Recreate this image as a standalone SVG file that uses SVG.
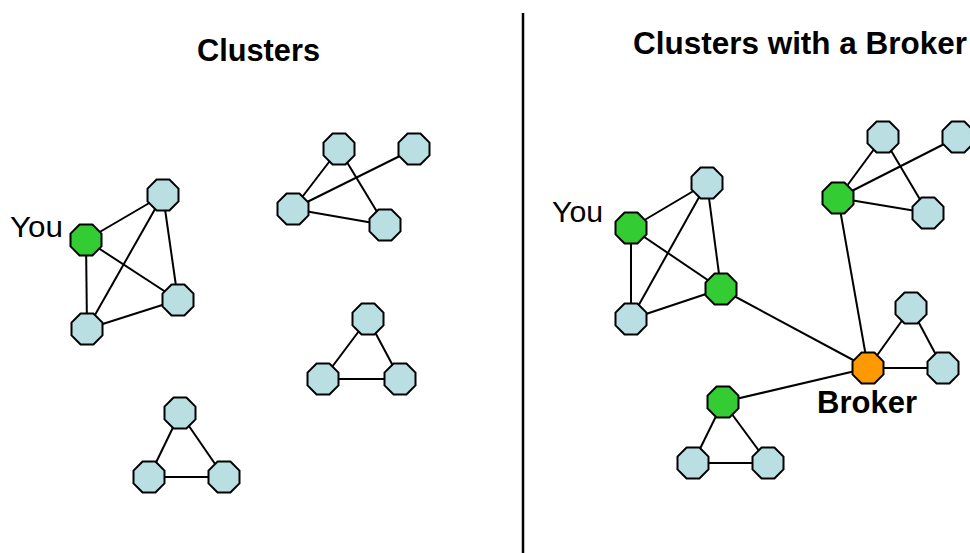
<svg xmlns="http://www.w3.org/2000/svg" xmlns:xlink="http://www.w3.org/1999/xlink" width="970" height="553" viewBox="0 0 970 553">
  <style>
    .edge { stroke: #000; stroke-width: 2; fill: none; }
    .node { stroke: #000; stroke-width: 2; stroke-linejoin: round; }
    .plain { fill: #b9dfe2; }
    .link { fill: #33cc33; }
    .broker { fill: #ff9900; }
    .title { font-family: "Liberation Sans", Arial, sans-serif; font-weight: bold; font-size: 31px; fill: #000; }
    .label { font-family: "Liberation Sans", Arial, sans-serif; font-size: 30px; fill: #000; }
  </style>
  <defs>
    <!-- octagonal node, centred on the origin -->
    <polygon id="oct" points="-6.4,-15.5 6.4,-15.5 15.5,-6.4 15.5,6.4 6.4,15.5 -6.4,15.5 -15.5,6.4 -15.5,-6.4"/>
  </defs>

  <rect width="970" height="553" fill="#fff"/>

  <!-- panel divider -->
  <line x1="523" y1="13" x2="523" y2="553" stroke="#000" stroke-width="2.5"/>

  <!-- titles -->
  <text class="title" x="197" y="61" textLength="123" lengthAdjust="spacingAndGlyphs">Clusters</text>
  <text class="title" x="633" y="54" textLength="334" lengthAdjust="spacingAndGlyphs">Clusters with a Broker</text>

  <!-- connectors -->
  <g id="connectors" class="edge">
    <!-- left panel: your cluster -->
    <line x1="86" y1="240" x2="163" y2="195"/>
    <line x1="86" y1="240" x2="178" y2="300"/>
    <line x1="86" y1="240" x2="87" y2="329"/>
    <line x1="163" y1="195" x2="178" y2="300"/>
    <line x1="163" y1="195" x2="87" y2="329"/>
    <line x1="87" y1="329" x2="178" y2="300"/>
    <!-- left panel: upper-right cluster -->
    <line x1="293" y1="209" x2="339" y2="149"/>
    <line x1="293" y1="209" x2="414" y2="149"/>
    <line x1="293" y1="209" x2="385" y2="225"/>
    <line x1="339" y1="149" x2="385" y2="225"/>
    <!-- left panel: middle triangle -->
    <line x1="368" y1="319" x2="323" y2="379"/>
    <line x1="368" y1="319" x2="400" y2="379"/>
    <line x1="323" y1="379" x2="400" y2="379"/>
    <!-- left panel: bottom triangle -->
    <line x1="180" y1="413" x2="149" y2="477"/>
    <line x1="180" y1="413" x2="224" y2="477"/>
    <line x1="149" y1="477" x2="224" y2="477"/>

    <!-- right panel: your cluster -->
    <line x1="631" y1="228" x2="707" y2="183"/>
    <line x1="631" y1="228" x2="721" y2="289"/>
    <line x1="631" y1="228" x2="631" y2="319"/>
    <line x1="707" y1="183" x2="721" y2="289"/>
    <line x1="707" y1="183" x2="631" y2="319"/>
    <line x1="631" y1="319" x2="721" y2="289"/>
    <!-- right panel: upper cluster -->
    <line x1="838" y1="198" x2="883" y2="137"/>
    <line x1="838" y1="198" x2="958" y2="137"/>
    <line x1="838" y1="198" x2="928" y2="213"/>
    <line x1="883" y1="137" x2="928" y2="213"/>
    <!-- right panel: triangle with the broker -->
    <line x1="868" y1="368" x2="911" y2="308"/>
    <line x1="911" y1="308" x2="943" y2="368"/>
    <line x1="868" y1="368" x2="943" y2="368"/>
    <!-- right panel: lower triangle -->
    <line x1="723" y1="402" x2="693" y2="463"/>
    <line x1="723" y1="402" x2="768" y2="463"/>
    <line x1="693" y1="463" x2="768" y2="463"/>
    <!-- broker bridges -->
    <line x1="721" y1="289" x2="868" y2="368"/>
    <line x1="838" y1="198" x2="868" y2="368"/>
    <line x1="723" y1="402" x2="868" y2="368"/>
  </g>

  <!-- left panel nodes -->
  <g id="l-you"><use xlink:href="#oct" class="node link" x="86" y="240"/><text class="label" x="10" y="237" textLength="53" lengthAdjust="spacingAndGlyphs">You</text></g>
  <g id="l-a1"><use xlink:href="#oct" class="node plain" x="163" y="195"/></g>
  <g id="l-a2"><use xlink:href="#oct" class="node plain" x="178" y="300"/></g>
  <g id="l-a3"><use xlink:href="#oct" class="node plain" x="87" y="329"/></g>
  <g id="l-b1"><use xlink:href="#oct" class="node plain" x="339" y="149"/></g>
  <g id="l-b2"><use xlink:href="#oct" class="node plain" x="414" y="149"/></g>
  <g id="l-b3"><use xlink:href="#oct" class="node plain" x="293" y="209"/></g>
  <g id="l-b4"><use xlink:href="#oct" class="node plain" x="385" y="225"/></g>
  <g id="l-c1"><use xlink:href="#oct" class="node plain" x="368" y="319"/></g>
  <g id="l-c2"><use xlink:href="#oct" class="node plain" x="323" y="379"/></g>
  <g id="l-c3"><use xlink:href="#oct" class="node plain" x="400" y="379"/></g>
  <g id="l-d1"><use xlink:href="#oct" class="node plain" x="180" y="413"/></g>
  <g id="l-d2"><use xlink:href="#oct" class="node plain" x="149" y="477"/></g>
  <g id="l-d3"><use xlink:href="#oct" class="node plain" x="224" y="477"/></g>

  <!-- right panel nodes -->
  <g id="r-you"><use xlink:href="#oct" class="node link" x="631" y="228"/><text class="label" x="552" y="222" textLength="51" lengthAdjust="spacingAndGlyphs">You</text></g>
  <g id="r-a1"><use xlink:href="#oct" class="node plain" x="707" y="183"/></g>
  <g id="r-a2"><use xlink:href="#oct" class="node link" x="721" y="289"/></g>
  <g id="r-a3"><use xlink:href="#oct" class="node plain" x="631" y="319"/></g>
  <g id="r-b1"><use xlink:href="#oct" class="node link" x="838" y="198"/></g>
  <g id="r-b2"><use xlink:href="#oct" class="node plain" x="883" y="137"/></g>
  <g id="r-b3"><use xlink:href="#oct" class="node plain" x="958" y="137"/></g>
  <g id="r-b4"><use xlink:href="#oct" class="node plain" x="928" y="213"/></g>
  <g id="r-broker"><use xlink:href="#oct" class="node broker" x="868" y="368"/><text class="title" x="817" y="413" textLength="100" lengthAdjust="spacingAndGlyphs">Broker</text></g>
  <g id="r-c1"><use xlink:href="#oct" class="node plain" x="911" y="308"/></g>
  <g id="r-c2"><use xlink:href="#oct" class="node plain" x="943" y="368"/></g>
  <g id="r-d1"><use xlink:href="#oct" class="node link" x="723" y="402"/></g>
  <g id="r-d2"><use xlink:href="#oct" class="node plain" x="693" y="463"/></g>
  <g id="r-d3"><use xlink:href="#oct" class="node plain" x="768" y="463"/></g>
</svg>
